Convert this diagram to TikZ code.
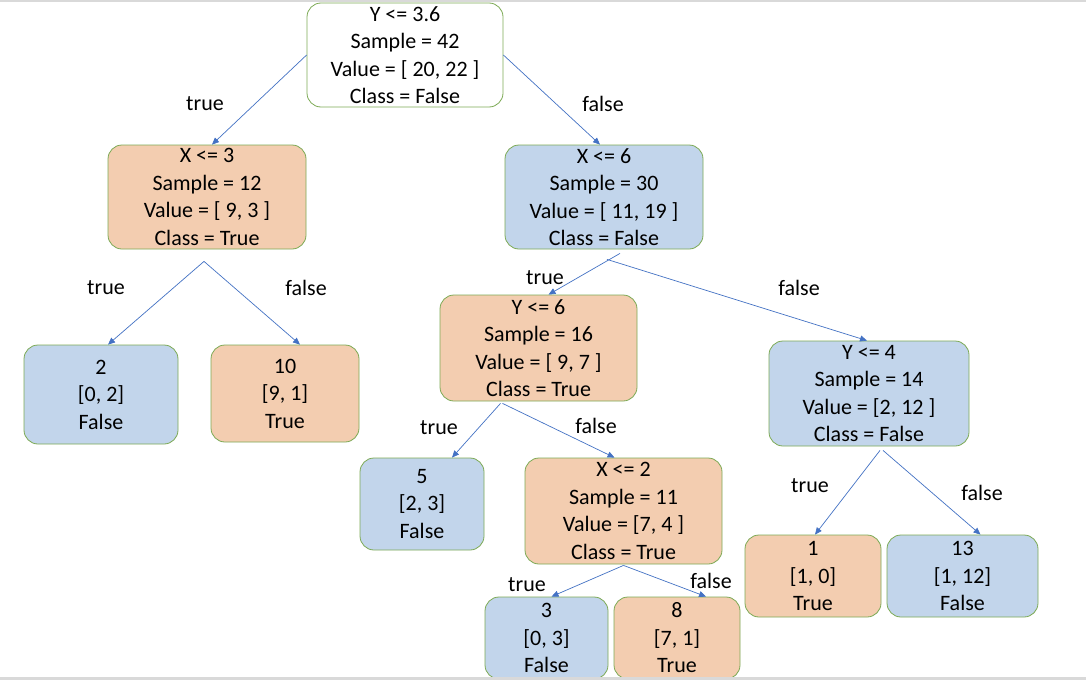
\documentclass[tikz,border=0pt]{standalone}
\usepackage{fontspec}
\setmainfont{Carlito}
\usetikzlibrary{arrows.meta}
\definecolor{bgreen}{HTML}{7DAA55}
\definecolor{ofill}{HTML}{F3CDB0}
\definecolor{bfill}{HTML}{C2D5EB}
\definecolor{edgeblue}{HTML}{4472C4}
\definecolor{frame}{HTML}{D9D9D9}
\tikzset{
  box/.style={draw=bgreen, line width=0.8pt, rounded corners=14pt, align=center,
    inner sep=0pt, font=\fontsize{22}{27.5}\selectfont, text=black},
  obox/.style={box, fill=ofill},
  bbox/.style={box, fill=bfill},
  wbox/.style={box, fill=white},
  conn/.style={draw=edgeblue, line width=0.7pt, -{Triangle[length=7pt,width=6pt]}},
  lab/.style={font=\fontsize{22}{27.5}\selectfont, inner sep=0pt, text=black}
}
\begin{document}
\begin{tikzpicture}[x=1pt,y=-1pt]
\useasboundingbox (0,0) rectangle (1086,680);
\fill[white] (0,0) rectangle (1086,680);
% nodes
\node[wbox, minimum width=196pt, minimum height=104pt] (root) at (405,55) {Y <= 3.6\\Sample = 42\\Value = [ 20, 22 ]\\Class = False};
\node[obox, minimum width=198pt, minimum height=104pt] (x3) at (207,197) {X <= 3\\Sample = 12\\Value = [ 9, 3 ]\\Class = True};
\node[bbox, minimum width=198pt, minimum height=104pt] (x6) at (604,197) {X <= 6\\Sample = 30\\Value = [ 11, 19 ]\\Class = False};
\node[bbox, minimum width=154pt, minimum height=99pt] (l2) at (101,394.5) {2\\{}[0, 2]\\False};
\node[obox, minimum width=148pt, minimum height=97pt] (l10) at (285,393.5) {10\\{}[9, 1]\\True};
\node[obox, minimum width=197pt, minimum height=106pt] (y6) at (538.5,348) {Y <= 6\\Sample = 16\\Value = [ 9, 7 ]\\Class = True};
\node[bbox, minimum width=200pt, minimum height=105pt] (y4) at (869,393.5) {Y <= 4\\Sample = 14\\Value = [2, 12 ]\\Class = False};
\node[bbox, minimum width=124pt, minimum height=92pt] (l5) at (422,504) {5\\{}[2, 3]\\False};
\node[obox, minimum width=197pt, minimum height=106pt] (x2) at (623.5,511) {X <= 2\\Sample = 11\\Value = [7, 4 ]\\Class = True};
\node[obox, minimum width=136pt, minimum height=82pt] (l1) at (813,576) {1\\{}[1, 0]\\True};
\node[bbox, minimum width=151pt, minimum height=82pt] (l13) at (962.5,576) {13\\{}[1, 12]\\False};
\node[bbox, minimum width=123pt, minimum height=82pt] (l3) at (546.5,638) {3\\{}[0, 3]\\False};
\node[obox, minimum width=126pt, minimum height=82pt] (l8) at (677,638) {8\\{}[7, 1]\\True};
% connectors
\draw[conn] (root.west) -- ([xshift=5pt]x3.north);
\draw[conn] (root.east) -- ([xshift=-4pt]x6.north);
\draw[conn] ([shift={(-3pt,-12pt)}]x3.south) -- ([xshift=7pt]l2.north);
\draw[conn] ([shift={(-3pt,-12pt)}]x3.south) -- ([xshift=15pt]l10.north);
\draw[conn] ([shift={(16pt,-4pt)}]x6.south) -- ([xshift=10pt]y6.north);
\draw[conn] ([shift={(3pt,-10pt)}]x6.south) -- ([xshift=-2pt]y4.north);
\draw[conn] ([shift={(-38pt,-2pt)}]y6.south) -- ([xshift=30pt]l5.north);
\draw[conn] ([shift={(-36pt,-2pt)}]y6.south) -- ([xshift=-9pt]x2.north);
\draw[conn] ([shift={(11pt,-4pt)}]y4.south) -- ([xshift=2pt]l1.north);
\draw[conn] ([shift={(14pt,-4pt)}]y4.south) -- ([xshift=18pt]l13.north);
\draw[conn] ([yshift=-1pt]x2.south) -- ([xshift=5pt]l3.north);
\draw[conn] ([yshift=-1pt]x2.south) -- ([xshift=29pt]l8.north);
% labels
\node[lab] (t1) at (205,104) {true};
\node[lab] (f1) at (603,104) {false};
\node[lab] (t2) at (106,288) {true};
\node[lab] (f2) at (306,288) {false};
\node[lab] (t3) at (545,278) {true};
\node[lab] (f3) at (799,288) {false};
\node[lab] (t4) at (439,428) {true};
\node[lab] (f4) at (596,426) {false};
\node[lab] (t5) at (810,486) {true};
\node[lab] (f5) at (982,493) {false};
\node[lab] (t6) at (527,585) {true};
\node[lab] (f6) at (711,581) {false};
% frame lines
\fill[frame] (0,0) rectangle (1086,1.5);
\fill[frame] (0,677) rectangle (1086,680);
\end{tikzpicture}
\end{document}
